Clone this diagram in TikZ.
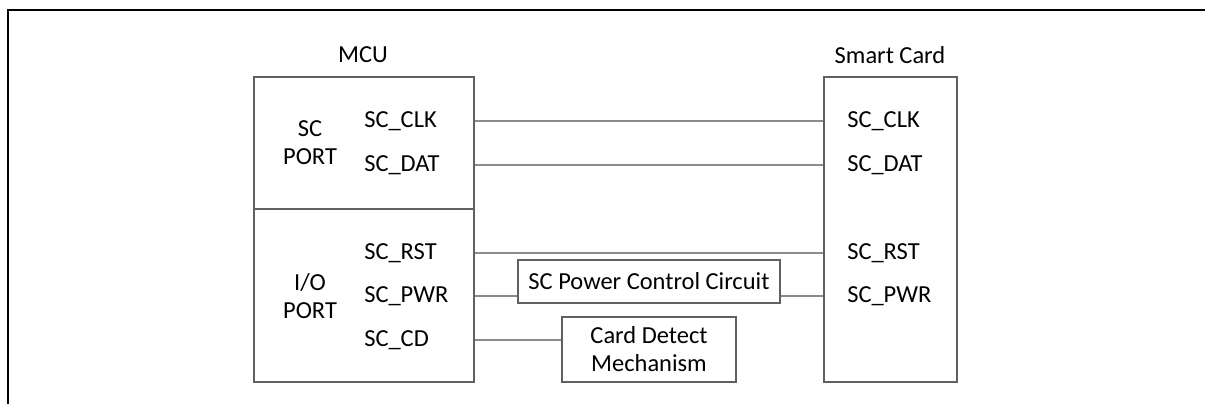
\documentclass[tikz,border=0pt]{standalone}
\usepackage{fontspec}
\setmainfont{Carlito}
\usetikzlibrary{positioning}
\usetikzlibrary{calc}
\definecolor{BoxGray}{RGB}{96,96,96}
\definecolor{WireGray}{RGB}{140,140,140}

\begin{document}
\begin{tikzpicture}[
  font=\fontsize{17.4}{19.8}\selectfont,
  box/.style={draw=BoxGray, line width=0.75pt, inner sep=0pt},
  sig/.style={anchor=west, inner sep=0pt},
  wire/.style={draw=WireGray, line width=0.75pt}
]
\useasboundingbox (0,0) rectangle (30.125,10.1);
\draw[line width=1.4pt] (0.2,0) -- (0.2,9.85) -- (30.125,9.85);
% MCU side
\node (mcu) at (9.075,8.725) {MCU};
\node[box, minimum width=5.5cm, minimum height=3.3cm] (scport) at (9.1,6.525) {};
\node[box, minimum width=5.5cm, minimum height=4.325cm] (ioport) at (9.1,2.7125) {};
\node[align=center] (sclab) at (7.75,6.5375) {SC\\PORT};
\node[align=center] (iolab) at (7.75,2.7) {I/O\\PORT};
\node[sig] (mclk) at (9.1,7.075) {SC\_CLK};
\node[sig] (mdat) at (9.1,5.975) {SC\_DAT};
\node[sig] (mrst) at (9.1,3.775) {SC\_RST};
\node[sig] (mpwr) at (9.1,2.7)   {SC\_PWR};
\node[sig] (mcd)  at (9.1,1.6)   {SC\_CD};
% card side
\node (cardlab) at (22.25,8.725) {Smart Card};
\node[box, minimum width=3.325cm, minimum height=7.625cm] (card) at (22.2625,4.3625) {};
\node[sig] (cclk) at (21.175,7.075) {SC\_CLK};
\node[sig] (cdat) at (21.175,5.975) {SC\_DAT};
\node[sig] (crst) at (21.175,3.775) {SC\_RST};
\node[sig] (cpwr) at (21.175,2.7)   {SC\_PWR};
% middle blocks
\node[box, minimum width=6.55cm, minimum height=1.075cm] (pwrctl) at (16.225,3.0625) {SC Power Control Circuit};
\node[box, minimum width=4.35cm, minimum height=1.625cm, align=center] (detect) at (16.225,1.3625) {Card Detect\\Mechanism};
\draw[wire] (mclk -| scport.east) -- (cclk -| card.west);
\draw[wire] (mdat -| scport.east) -- (cdat -| card.west);
\draw[wire] (mrst -| ioport.east) -- (crst -| card.west);
\draw[wire] (mpwr -| ioport.east) -- (mpwr -| pwrctl.west);
\draw[wire] (mpwr -| pwrctl.east) -- (cpwr -| card.west);
\draw[wire] (mcd -| ioport.east) -- (mcd -| detect.west);
\end{tikzpicture}
\end{document}
